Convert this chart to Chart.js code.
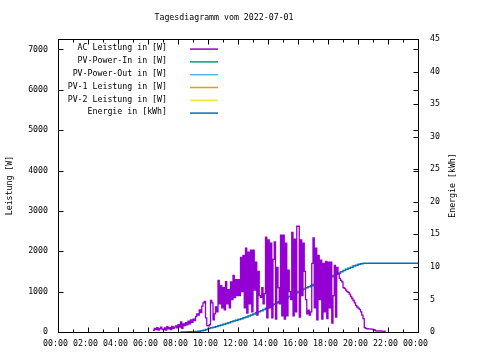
<!DOCTYPE html>
<html>
<head>
<meta charset="utf-8">
<script src="https://cdn.jsdelivr.net/npm/chart.js@4.4.1/dist/chart.umd.min.js"></script>
<style>
  html, body { margin: 0; padding: 0; background: #fff; }
  canvas { display: block; }
</style>
</head>
<body>
<canvas id="c" width="480" height="360"></canvas>
<script>
// ---------- data ----------
const chartTitle = "Tagesdiagramm vom 2022-07-01";
const seriesLabels = ["AC Leistung in [W]", "PV-Power-In in [W]", "PV-Power-Out in [W]",
                      "PV-1 Leistung in [W]", "PV-2 Leistung in [W]", "Energie in [kWh]"];
const seriesColors = ["#9400d3", "#009e73", "#56b4e9", "#e69f00", "#f0e442", "#0072b2"];
const xTickLabels = ["00:00","02:00","04:00","06:00","08:00","10:00","12:00",
                     "14:00","16:00","18:00","20:00","22:00","00:00"];
const yTickValues = [0, 1000, 2000, 3000, 4000, 5000, 6000, 7000];
const y2TickValues = [0, 5, 10, 15, 20, 25, 30, 35, 40, 45];
const yAxisTitle = "Leistung [W]";
const y2AxisTitle = "Energie [kWh]";

// AC power, one reading every 5 minutes starting 06:20
const acStart = "06:20";
const acStepMinutes = 5;
const acPower = [
  40, 90, 60, 110, 50, 80, 120, 70,
  60, 100, 50, 130, 80, 110, 60, 140, 90, 120, 150, 100,
  180, 120, 250, 90, 200, 160, 230, 180, 270, 200, 300, 240,
  320, 280, 380, 450, 420, 550, 480, 640, 720, 760, 350, 160,
  150, 180, 780, 720, 300, 450, 620, 500, 1280, 700, 1150, 600,
  1100, 550, 1250, 700, 1050, 600, 1240, 800, 1400, 850, 1300, 900,
  1300, 900, 1850, 1000, 1900, 600, 2080, 470, 1980, 700, 2030, 500,
  2030, 1040, 1730, 420, 1500, 900, 860, 1100, 700, 950, 2350, 350,
  2280, 600, 2200, 350, 1800, 2230, 320, 1600, 1100, 700, 2400, 400,
  2400, 320, 2200, 400, 1530, 1000, 800, 2470, 400, 2300, 500, 2620,
  2620, 370, 2280, 900, 2200, 1500, 800, 450, 540, 420, 500, 1700,
  2330, 600, 2080, 300, 1900, 800, 1780, 320, 1700, 500, 1750, 330,
  1730, 600, 1730, 220, 900, 1650, 370, 1600, 1450, 1330, 1280, 1240,
  1100, 1080, 1040, 1000, 980, 940, 880, 830, 780, 720, 660, 620,
  590, 560, 500, 420, 330, 110, 90, 80, 75, 75, 70, 70,
  60, 50, 30, 25, 25, 20, 25, 20, 20, 15, 10
];

// Energy (kWh) at listed times
const energyTimes = [
  "08:10","08:20","08:30","08:40","08:50","09:00","09:10","09:20","09:30","09:40","09:50",
  "10:00","10:10","10:20","10:30","10:40","10:50","11:00","11:10","11:20","11:30","11:40","11:50",
  "12:00","12:10","12:20","12:30","12:40","12:50","13:00","13:10","13:20","13:30","13:40","13:50",
  "14:00","14:10","14:20","14:30","14:40","14:50","15:00","15:10","15:20","15:30","15:40","15:50",
  "16:00","16:10","16:20","16:30","16:40","16:50","17:00","17:10","17:20","17:30","17:40","17:50",
  "18:00","18:10","18:20","18:30","18:40","18:50","19:00","19:10","19:20","19:30","19:40","19:50",
  "20:00","20:10","20:20","20:30","24:00"
];
const energyValues = [
  0.00, 0.00, 0.01, 0.02, 0.03, 0.04, 0.06, 0.12, 0.20, 0.28, 0.40,
  0.52, 0.64, 0.74, 0.85, 0.96, 1.07, 1.18, 1.30, 1.42, 1.56, 1.68, 1.80,
  1.92, 2.04, 2.18, 2.32, 2.46, 2.62, 2.78, 2.94, 3.10, 3.28, 3.46, 3.66,
  3.86, 4.06, 4.26, 4.46, 4.66, 4.86, 5.06, 5.24, 5.44, 5.64, 5.82, 6.02,
  6.22, 6.40, 6.60, 6.78, 6.94, 7.12, 7.28, 7.44, 7.62, 7.82, 8.00, 8.18,
  8.34, 8.50, 8.68, 8.86, 9.04, 9.24, 9.44, 9.62, 9.80, 9.96, 10.12, 10.26,
  10.40, 10.48, 10.54, 10.56, 10.56
];

// ---------- helpers ----------
function toHours(s) { const [h, m] = s.split(":").map(Number); return h + m / 60; }
const acStartH = toHours(acStart);
const acData = acPower.map((v, i) => ({ x: acStartH + i * acStepMinutes / 60, y: v }));
const energyData = energyTimes.map((t, i) => ({ x: toHours(t), y: energyValues[i] }));

const FONT = "'DejaVu Sans Mono', 'Liberation Mono', monospace";
const FS = 8.25;
Chart.defaults.font.family = FONT;
Chart.defaults.font.size = FS;
Chart.defaults.color = "#000";

const datasets = seriesLabels.map((lab, i) => ({
  label: lab,
  data: i === 0 ? acData : (i === 5 ? energyData : []),
  yAxisID: i === 5 ? "y2" : "y",
  borderColor: seriesColors[i],
  backgroundColor: seriesColors[i],
  borderWidth: i === 0 ? 1.3 : 1.5,
  pointRadius: 0,
  stepped: true,
  fill: false
}));

const gnuplotDecor = {
  id: "gnuplotDecor",
  afterDraw(chart) {
    const { ctx, chartArea: a, scales } = chart;
    const xs = scales.x, ys = scales.y, y2s = scales.y2;
    ctx.save();
    ctx.strokeStyle = "#000";
    ctx.lineWidth = 1;
    const L = Math.round(a.left) + 0.5, R = Math.round(a.right) + 0.5;
    const T = Math.round(a.top) + 0.5, B = Math.round(a.bottom) + 0.5;
    ctx.beginPath();
    // x ticks: major every 2h, minor every hour, mirrored on top
    for (let h = xs.min; h <= xs.max; h += 1) {
      const px = Math.round(xs.getPixelForValue(h)) + 0.5;
      const len = (h % 2 === 0) ? 5 : 3;
      ctx.moveTo(px, B); ctx.lineTo(px, B - len);
      ctx.moveTo(px, T); ctx.lineTo(px, T + len);
    }
    // y ticks on left, mirrored on right
    ys.ticks.forEach(t => {
      const py = Math.round(ys.getPixelForValue(t.value)) + 0.5;
      ctx.moveTo(L, py); ctx.lineTo(L + 5, py);
      ctx.moveTo(R, py); ctx.lineTo(R - 5, py);
    });
    // y2 ticks on right
    y2s.ticks.forEach(t => {
      const py = Math.round(y2s.getPixelForValue(t.value)) + 0.5;
      ctx.moveTo(R, py); ctx.lineTo(R - 5, py);
    });
    ctx.stroke();
    ctx.strokeRect(L, T, R - L, B - T);

    ctx.fillStyle = "#000";
    ctx.font = FS + "px " + FONT;
    // chart title
    ctx.textAlign = "center";
    ctx.textBaseline = "middle";
    ctx.fillText(chartTitle, 224, 18);

    // right axis title (reads bottom to top)
    ctx.save();
    ctx.translate(453, (a.top + a.bottom) / 2);
    ctx.rotate(-Math.PI / 2);
    ctx.fillText(y2AxisTitle, 0, 0);
    ctx.restore();

    // legend (gnuplot style: right-aligned text, then line sample)
    chart.data.datasets.forEach((ds, i) => {
      const ty = 48.3 + i * 12.8;
      ctx.textAlign = "right";
      ctx.fillStyle = "#000";
      ctx.fillText(ds.label, 167, ty);
      ctx.strokeStyle = ds.borderColor;
      ctx.lineWidth = 1.5;
      ctx.beginPath();
      ctx.moveTo(190, ty + 0.8);
      ctx.lineTo(218, ty + 0.8);
      ctx.stroke();
    });
    ctx.restore();
  }
};

new Chart(document.getElementById("c"), {
  type: "line",
  data: { datasets },
  options: {
    responsive: false,
    animation: false,
    devicePixelRatio: 1,
    layout: { padding: { top: 39, left: 0, right: 0, bottom: 0 } },
    plugins: {
      legend: { display: false },
      tooltip: { enabled: false },
      title: { display: false }
    },
    scales: {
      x: {
        type: "linear",
        min: 0, max: 24,
        grid: { display: false, drawTicks: false },
        border: { display: false },
        ticks: {
          stepSize: 2,
          padding: 7,
          labelOffset: -2.5,
          maxRotation: 0,
          autoSkip: false,
          callback: (v) => xTickLabels[Math.round(v / 2)]
        },
        afterFit: (s) => { s.height = 28; }
      },
      y: {
        position: "left",
        min: 0, max: 7260,
        grid: { display: false, drawTicks: false },
        border: { display: false },
        ticks: { padding: 10, autoSkip: false, callback: (v) => String(v) },
        afterBuildTicks: (s) => { s.ticks = yTickValues.map(v => ({ value: v })); },
        title: {
          display: true, text: yAxisTitle,
          font: { size: FS, lineHeight: "10px" },
          padding: { top: 5, bottom: 0 }
        },
        afterFit: (s) => { s.width = 58; }
      },
      y2: {
        position: "right",
        min: 0, max: 45,
        grid: { display: false, drawTicks: false },
        border: { display: false },
        ticks: { padding: 12, autoSkip: false, callback: (v) => String(v) },
        afterBuildTicks: (s) => { s.ticks = y2TickValues.map(v => ({ value: v })); },
        afterFit: (s) => { s.width = 62; }
      }
    }
  },
  plugins: [gnuplotDecor]
});
</script>
</body>
</html>
